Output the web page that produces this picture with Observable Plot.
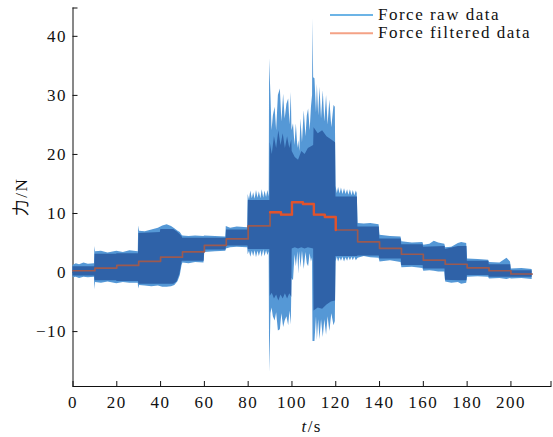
<!DOCTYPE html>
<html><head><meta charset="utf-8">
<script src="https://cdn.jsdelivr.net/npm/d3@7"></script>
<script src="https://cdn.jsdelivr.net/npm/@observablehq/plot@0.6"></script>
<style>
html,body{margin:0;padding:0;background:#fff;}
#chart{width:553px;height:437px;position:relative;}
</style></head><body><div id="chart"></div>
<script>
// ---- axes ----
const xTicks = [0, 20, 40, 60, 80, 100, 120, 140, 160, 180, 200];
const yTicks = [-10, 0, 10, 20, 30, 40];
const xDomain = [0, 218.3];
const yDomain = [-19.3, 44.8];
const xLabel = ["t", "/s"];
const yLabel = "力/N";
const legendLabels = ["Force raw data", "Force filtered data"];

// ---- raw data: outer envelope (peaks of the oscillation) ----
const envT  = [0, 1.5, 3, 5, 7, 9.8, 10.0, 10.3, 13, 16, 20, 23, 26, 29.8, 30.0, 30.4, 33, 36, 39, 41, 43, 45, 46.5, 48, 49, 49.8, 50.2, 53, 56, 59.8, 60.2, 65, 69.8, 70.0, 72, 75, 79.8,
  80.0, 80.6, 81.2, 81.9, 82.5, 83.2, 83.8, 84.5, 85.1, 85.8, 86.4, 87.1, 87.7, 88.4, 89.0, 89.6,
  89.8, 90.1, 90.4, 90.9, 91.5, 92.3, 93.0, 93.8, 94.7, 95.4, 96.2, 96.9, 97.7, 98.5, 99.1, 99.7,
  100.0, 100.7, 101.4, 102.0, 102.7, 103.1, 103.6, 104.1, 104.8, 105.6, 106.4, 107.0, 107.6, 108.3, 108.9, 109.4,
  109.6, 109.9, 110.5, 111.2, 111.6, 112.2, 112.8, 113.5, 114.3, 115.0, 115.8, 116.5, 117.3, 118.2, 119.2, 119.8,
  120.1, 120.7, 121.3, 122.0, 122.6, 123.3, 124.0, 124.7, 125.4, 126.0, 126.7, 127.4, 128.0, 128.7, 129.4, 129.8,
  130.2, 133, 136, 139.8, 140.2, 145, 149.8, 150.2, 155, 159.8, 160.2, 163, 165, 167, 169.8,
  170.2, 173, 176, 177.5, 179.8, 180.2, 185, 189.8, 190.2, 195, 198.2, 199.8, 200.2, 205, 209.7];
const envHi = [1.2, 1.5, 1.3, 1.6, 1.4, 1.5, 4.4, 3.5, 3.6, 3.3, 3.6, 3.4, 3.7, 3.5, 7.9, 7.0, 6.9, 7.2, 7.5, 7.9, 8.1, 7.8, 7.4, 7.0, 6.8, 6.3, 6.2, 6.1, 6.2, 6.1, 6.2, 6.1, 6.0, 7.8, 7.5, 7.7, 7.6,
  13.2, 12.3, 13.8, 12.5, 13.5, 12.4, 13.9, 12.6, 13.7, 12.5, 14.0, 12.6, 13.8, 12.7, 13.9, 12.8,
  36.2, 33.0, 30.0, 24.0, 26.5, 28.0, 24.0, 30.0, 31.1, 25.5, 30.2, 26.0, 28.5, 29.4, 25.0, 30.5,
  24.0, 25.2, 21.5, 25.2, 21.0, 22.3, 20.5, 26.0, 22.0, 27.4, 23.0, 26.5, 27.7, 24.0, 28.0, 30.0,
  43.0, 33.0, 32.8, 27.0, 31.9, 26.5, 31.4, 26.0, 30.8, 25.5, 30.0, 25.0, 29.2, 24.5, 28.3, 28.0,
  14.6, 13.4, 14.4, 13.3, 14.3, 13.2, 14.2, 13.2, 14.0, 13.1, 14.0, 13.0, 13.9, 13.0, 13.8, 13.4,
  8.3, 8.2, 8.3, 8.1, 6.3, 6.1, 6.0, 5.2, 5.0, 5.1, 4.6, 4.8, 5.3, 5.0, 4.8,
  4.2, 4.3, 4.9, 5.1, 4.9, 2.3, 2.2, 2.1, 1.7, 1.6, 2.4, 1.8, 0.6, 0.7, 0.5];
const envLo = [-0.9, -0.8, -1.0, -0.8, -0.9, -0.8, -2.9, -1.7, -1.8, -1.6, -1.9, -1.7, -1.8, -1.8, -2.8, -2.2, -2.3, -2.4, -2.3, -2.5, -2.5, -2.4, -2.2, -1.5, -0.5, 1.2, 1.6, 1.5, 1.7, 1.6, 3.4, 3.5, 3.6, 4.0, 4.2, 4.3, 4.2,
  3.0, 3.6, 2.6, 3.6, 2.7, 3.7, 2.5, 3.6, 2.7, 3.7, 2.6, 3.8, 2.7, 3.7, 2.9, 3.5,
  -16.9, -12.5, -7.0, -6.0, -7.5, -8.2, -6.8, -9.9, -9.7, -7.0, -9.3, -8.2, -7.5, -9.0, -6.5, -8.9,
  -1.0, -1.4, 3.0, 1.0, 3.5, -0.3, 3.5, 0.8, 3.6, 0.5, 3.4, 1.5, 1.0, 3.2, 1.8, 2.5,
  -11.7, -11.7, -11.7, -7.5, -11.5, -8.0, -11.4, -8.0, -11.0, -8.0, -10.6, -7.5, -10.0, -7.0, -9.0, -8.3,
  1.8, 2.6, 1.8, 2.5, 1.9, 2.6, 1.8, 2.5, 1.9, 2.6, 2.0, 2.6, 2.0, 2.6, 2.0, 2.2,
  2.4, 2.7, 2.5, 2.4, 1.8, 2.0, 1.7, 0.8, 0.9, 0.7, 0.2, 0.3, 0.2, 0.1, 0.1,
  -1.6, -1.8, -1.7, -2.0, -1.8, -0.8, -0.7, -0.8, -1.1, -1.0, -1.2, -1.0, -1.1, -1.0, -1.2];

// ---- raw data: dense core of the oscillation ----
const coreT  = [0, 9.9, 10.1, 19.9, 20.1, 29.9, 30.1, 39.9, 40.1, 46, 47.5, 48.8, 49.9, 50.1, 59.9, 60.1, 69.9, 70.1, 79.9, 80.1, 89.9,
  90.1, 91, 92, 93, 94, 95, 96, 97, 98, 99, 99.9, 100.1, 101.5, 103, 104.5, 106, 107.5, 109.9,
  110.1, 112, 114, 116, 118, 119.9, 120.1, 129.9, 130.1, 139.9, 140.1, 149.9, 150.1, 159.9, 160.1, 169.9,
  170.1, 176, 179.9, 180.1, 189.9, 190.1, 199.9, 200.1, 209.7];
const coreHi = [1.0, 1.0, 3.1, 3.1, 3.2, 3.2, 6.6, 6.8, 7.3, 7.3, 6.9, 6.5, 6.0, 5.8, 5.8, 5.8, 5.8, 7.2, 7.2, 12.2, 12.2,
  22.0, 20.0, 23.0, 21.0, 24.0, 21.5, 23.5, 21.0, 23.0, 21.0, 22.5, 20.5, 19.5, 19.0, 20.5, 20.0, 21.0, 21.5,
  24.5, 23.5, 24.0, 23.0, 22.5, 22.0, 12.8, 12.8, 7.7, 7.7, 5.7, 5.7, 4.7, 4.7, 4.3, 4.4,
  3.9, 4.4, 4.4, 1.9, 1.9, 1.3, 1.3, 0.3, 0.3];
const coreLo = [-0.6, -0.6, -1.4, -1.4, -1.5, -1.5, -2.0, -2.0, -2.0, -2.0, -1.6, -0.3, 1.9, 1.9, 1.9, 3.8, 3.8, 4.5, 4.5, 3.9, 3.9,
  -4.0, -3.5, -4.5, -3.8, -4.8, -3.8, -4.5, -3.6, -4.5, -3.6, -4.2, 4.0, 4.2, 4.0, 4.2, 4.0, 4.2, 4.0,
  -6.5, -6.0, -6.2, -5.5, -5.0, -4.8, 2.7, 2.7, 2.8, 2.8, 2.3, 2.3, 1.2, 1.2, 0.6, 0.6,
  -1.3, -1.4, -1.4, -0.5, -0.5, -0.8, -0.8, -0.8, -0.8];

// ---- filtered data (step levels) ----
const filtT = [0, 10, 20, 30, 40, 50, 60, 70, 80, 90, 95, 100, 105, 110, 115, 120, 130, 140, 150, 160, 170, 180, 190, 200, 209.7];
const filtV = [0.3, 0.75, 1.2, 1.9, 2.6, 3.5, 4.6, 5.7, 7.9, 10.2, 9.8, 11.9, 11.6, 9.8, 9.4, 7.2, 5.2, 4.1, 3.1, 2.1, 1.4, 0.8, 0.3, -0.25, -0.25];

const env = envT.map((t, i) => ({t, hi: envHi[i], lo: envLo[i]}));
const core = coreT.map((t, i) => ({t, hi: coreHi[i], lo: coreLo[i]}));
const filt = filtT.map((t, i) => ({t, v: filtV[i]}));
const filtCenter = filt.filter(d => d.t >= 90 && d.t <= 120);

const fmt = d => (d === xDomain[1] || d === yDomain[1]) ? "" : (d < 0 ? "\u2212" + Math.abs(d) : String(d));
const font = "'Liberation Serif', 'Times New Roman', serif";

const plot = Plot.plot({
  width: 553,
  height: 437,
  marginLeft: 72.5,
  marginTop: 7.5,
  marginRight: 2.5,
  marginBottom: 51,
  style: `font-family: ${font}; font-size: 17px; letter-spacing: 1.5px; color: #111; background: #fff;`,
  x: {domain: xDomain, ticks: [...xTicks, xDomain[1]], tickFormat: fmt, tickSize: -5, tickPadding: 14, line: true, label: null},
  y: {domain: yDomain, ticks: [...yTicks, yDomain[1]], tickFormat: fmt, tickSize: -5, tickPadding: 11, line: true, label: null},
  marks: [
    Plot.areaY(env, {x: "t", y1: "lo", y2: "hi", fill: "#5598d6"}),
    Plot.areaY(core, {x: "t", y1: "lo", y2: "hi", fill: "#2f62a8"}),
    Plot.line(filt, {x: "t", y: "v", curve: "step-after", stroke: "#9c5a50", strokeWidth: 1.7}),
    Plot.line(filtCenter, {x: "t", y: "v", curve: "step-after", stroke: "#e0532c", strokeWidth: 2.4})
  ]
});
document.getElementById("chart").appendChild(plot);

const svg = d3.select(plot);
// legend
const legendColors = ["#6cb4e6", "#f4a286"];
legendLabels.forEach((lab, i) => {
  const y = 15 + i * 18.3;
  svg.append("line").attr("x1", 330).attr("x2", 373).attr("y1", y).attr("y2", y)
    .attr("stroke", legendColors[i]).attr("stroke-width", 2);
  svg.append("text").attr("x", 378).attr("y", y + 4.5).attr("text-anchor", "start")
    .style("font-family", font).style("font-size", "17px").style("letter-spacing", "1.5px")
    .attr("fill", "#111").text(lab);
});
// x label
const xl = svg.append("text").attr("x", 311.7).attr("y", 432).attr("text-anchor", "middle")
  .style("font-family", font).style("font-size", "17px").attr("fill", "#111");
xl.append("tspan").attr("font-style", "italic").text(xLabel[0]);
xl.append("tspan").text(xLabel[1]);
// y label
svg.append("text").attr("transform", "translate(21,197) rotate(-90)")
  .attr("text-anchor", "middle").attr("dominant-baseline", "central")
  .style("font-family", "'Liberation Serif', 'Noto Sans CJK SC', serif").style("font-size", "17px")
  .attr("fill", "#111").text(yLabel);
</script></body></html>
